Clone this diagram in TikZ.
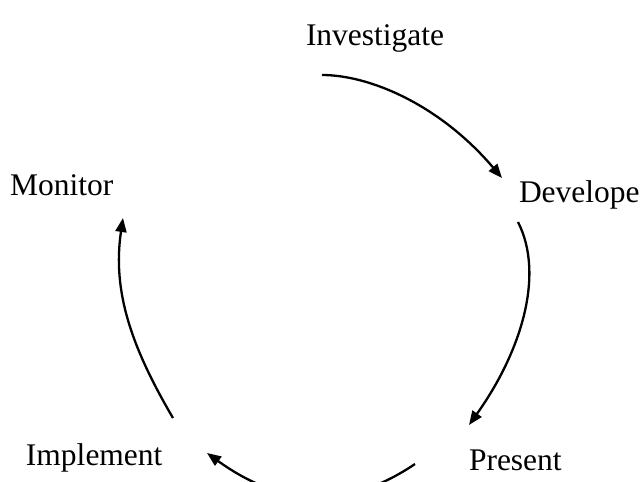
\documentclass[tikz,border=0pt]{standalone}
\usepackage{fontspec}
\setmainfont{Liberation Serif}
\usetikzlibrary{arrows.meta}
\tikzset{
  lbl/.style={inner sep=0pt, outer sep=0pt, anchor=base west, font=\fontsize{31.5}{38}\selectfont},
  cyc/.style={line width=2.3pt, -{Triangle[length=14pt,width=11pt]}}
}
\begin{document}
\begin{tikzpicture}[x=1pt,y=-1pt]
\fill[white] (0,0) rectangle (641,482);
\useasboundingbox (0,0) rectangle (641,482);
\node[lbl] (inv) at (306,45) {Investigate};
\node[lbl] (dev) at (519,202) {Develope};
\node[lbl] (pre) at (469,470) {Present};
\node[lbl] (imp) at (26,465) {Implement};
\node[lbl] (mon) at (10,195) {Monitor};
\coordinate (a1s) at (322,75);
\coordinate (a1e) at (502,178);
\coordinate (a2s) at (518,222);
\coordinate (a2e) at (469,425);
\coordinate (a3s) at (415,464);
\coordinate (a3e) at (207,453);
\coordinate (a4s) at (173,418);
\coordinate (a4e) at (123,218);
\draw[cyc] (a1s) .. controls (370,75) and (440,105) .. (a1e);
\draw[cyc] (a2s) .. controls (545,275) and (521,352) .. (a2e);
\draw[cyc] (a3s) .. controls (338,516) and (272,500) .. (a3e);
\draw[cyc] (a4s) .. controls (132,348) and (112,292) .. (a4e);
\end{tikzpicture}
\end{document}
